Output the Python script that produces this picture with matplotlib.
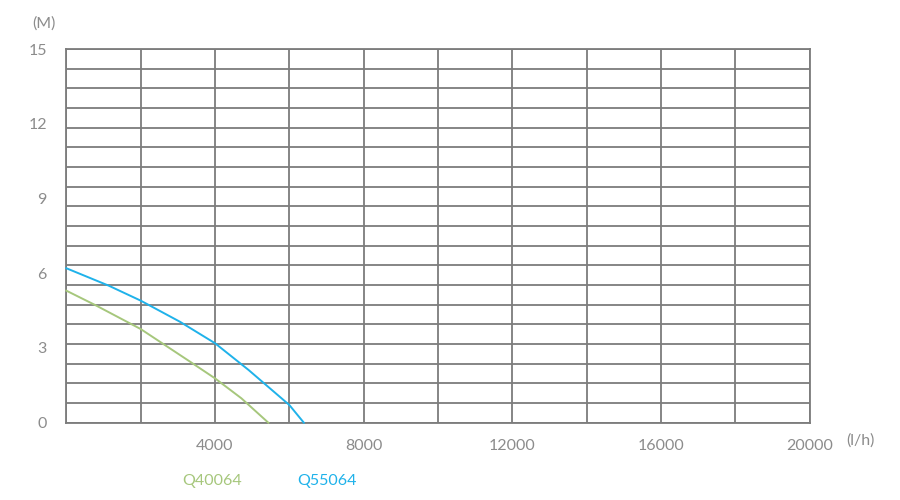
import numpy as np
import matplotlib
matplotlib.use("Agg")
import matplotlib.pyplot as plt

# flow (l/h) vs head (M)
q55064_flow = [0, 1141, 2000, 3059, 4000, 4900, 6000, 6390]
q55064_head = [6.20, 5.50, 4.90, 4.05, 3.19, 2.12, 0.71, 0.0]

q40064_flow = [0, 780, 2000, 3328, 4000, 4709, 5435]
q40064_head = [5.30, 4.72, 3.76, 2.45, 1.78, 0.98, 0.0]

x_ticks = [4000, 8000, 12000, 16000, 20000]
y_ticks = [0, 3, 6, 9, 12, 15]

plt.rcParams["font.family"] = ["Lato", "DejaVu Sans"]
grid_col = "#7c7c7c"
text_col = "#8c8c8c"
blue = "#1fb2ea"
green = "#a6c77c"

fig = plt.figure(figsize=(9, 5), dpi=100)
ax = fig.add_axes([0.0737, 0.1546, 0.826, 0.7474])

ax.set_xlim(0, 20000)
ax.set_ylim(0, 15)

# grid: vertical every 2000, horizontal 19 equal rows
for gx in np.arange(0, 20001, 2000):
    ax.axvline(gx, color=grid_col, linewidth=1.3, zorder=1)
for gy in np.linspace(0, 15, 20):
    ax.axhline(gy, color=grid_col, linewidth=1.3, zorder=1)

ax.set_xticks(x_ticks)
ax.set_yticks(y_ticks)
ax.tick_params(length=0, labelsize=11.5, colors=text_col)
ax.tick_params(axis="x", pad=12)
ax.tick_params(axis="y", pad=14)
for sp in ax.spines.values():
    sp.set_color(grid_col)
    sp.set_linewidth(1.3)

ax.plot(q40064_flow, q40064_head, color=green, linewidth=1.4, clip_on=False, zorder=3)
ax.plot(q55064_flow, q55064_head, color=blue, linewidth=1.4, clip_on=False, zorder=3)

fig.text(44 / 900, 1 - 24 / 500, "(M)", ha="center", va="center",
         color=text_col, fontsize=11.5)
fig.text(860 / 900, 1 - 441 / 500, "(l/h)", ha="center", va="center",
         color=text_col, fontsize=11.5)
fig.text(212 / 900, 1 - 481 / 500, "Q40064", ha="center", va="center",
         color=green, fontsize=11.5)
fig.text(327 / 900, 1 - 481 / 500, "Q55064", ha="center", va="center",
         color=blue, fontsize=11.5)

fig.savefig("out.png", dpi=100, facecolor="white")
